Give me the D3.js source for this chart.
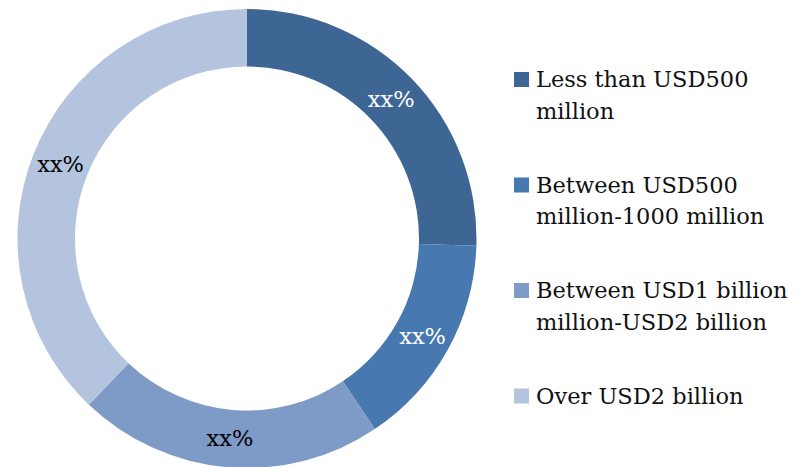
<!DOCTYPE html>
<html>
<head>
<meta charset="utf-8">
<script src="https://cdn.jsdelivr.net/npm/d3@7"></script>
<style>
  html, body { margin: 0; padding: 0; background: #fff; }
  svg { display: block; }
  text { font-family: "DejaVu Serif", "Liberation Serif", serif; }
</style>
</head>
<body>
<svg id="chart" width="811" height="467"></svg>
<script>
// Deal size bands and their shares (percent)
const categories = [
  ["Less than USD500", "million"],
  ["Between USD500", "million-1000 million"],
  ["Between USD1 billion", "million-USD2 billion"],
  ["Over USD2 billion"]
];
const shares = [25.5, 15.1, 21.5, 37.9];
const sliceLabels = ["xx%", "xx%", "xx%", "xx%"];
const colors = ["#3D6695", "#4878B0", "#7E9BC8", "#B4C4DF"];
const labelColors = ["#ffffff", "#ffffff", "#000000", "#000000"];

const svg = d3.select("#chart");
const cx = 247, cy = 238.5;
const outerR = 229.5, innerR = 172;

const pie = d3.pie().sort(null).value(d => d)(shares);
const arc = d3.arc().innerRadius(innerR).outerRadius(outerR);

const ring = svg.append("g").attr("transform", `translate(${cx},${cy})`);

ring.selectAll("path.slice")
  .data(pie)
  .join("path")
  .attr("class", "slice")
  .attr("d", arc)
  .attr("fill", (d, i) => colors[i]);

ring.selectAll("text.value")
  .data(pie)
  .join("text")
  .attr("class", "value")
  .attr("transform", d => `translate(${arc.centroid(d)})`)
  .attr("text-anchor", "middle")
  .attr("dy", "0.35em")
  .attr("font-size", 22.5)
  .attr("fill", (d, i) => labelColors[i])
  .text((d, i) => sliceLabels[i]);

// Legend
const legendX = 514, firstBaseline = 87, itemStep = 105.5, lineStep = 31.5;
const legend = svg.append("g");
const items = legend.selectAll("g.item")
  .data(categories)
  .join("g")
  .attr("class", "item")
  .attr("transform", (d, i) => `translate(${legendX},${firstBaseline + i * itemStep})`);

items.append("rect")
  .attr("x", 0).attr("y", -15)
  .attr("width", 15).attr("height", 15)
  .attr("fill", (d, i) => colors[i]);

items.append("text")
  .attr("x", 22)
  .attr("font-size", 22.5)
  .attr("fill", "#111")
  .selectAll("tspan")
  .data(d => d)
  .join("tspan")
  .attr("x", 22)
  .attr("dy", (d, j) => j === 0 ? 0 : lineStep)
  .text(d => d);
</script>
</body>
</html>
